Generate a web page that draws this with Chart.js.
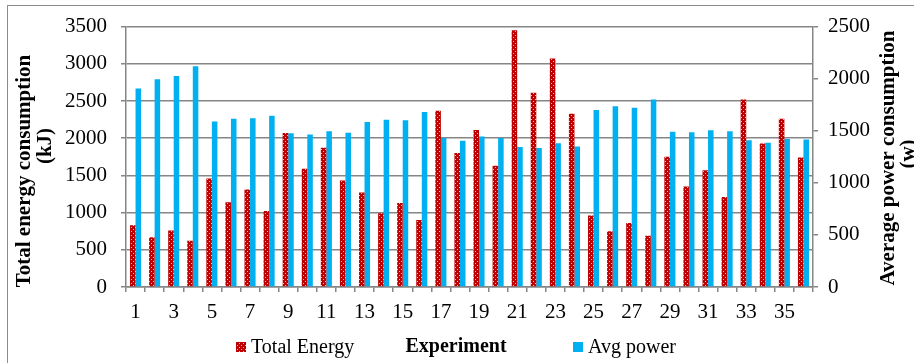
<!DOCTYPE html>
<html>
<head>
<meta charset="utf-8">
<script src="https://cdn.jsdelivr.net/npm/chart.js@4.4.0/dist/chart.umd.min.js"></script>
<style>
  html, body { margin: 0; padding: 0; background: #fff; }
  #wrap { width: 914px; height: 363px; }
</style>
</head>
<body>
<div id="wrap"><canvas id="chart" width="914" height="363"></canvas></div>
<script>
//---------------------------------------------------------------------
// DONNÉES
//---------------------------------------------------------------------
const experiments = ['1','2','3','4','5','6','7','8','9','10','11','12','13','14','15','16','17','18',
    '19','20','21','22','23','24','25','26','27','28','29','30','31','32','33','34','35','36'];
const totalEnergy = [830, 670, 760, 620, 1460, 1140, 1310, 1020, 2070, 1590, 1870, 1430,
    1270, 990, 1130, 900, 2370, 1800, 2110, 1630, 3450, 2610, 3070, 2330,
    960, 750, 860, 690, 1750, 1350, 1570, 1210, 2520, 1930, 2260, 1740];
const avgPower = [1905, 1995, 2025, 2120, 1590, 1615, 1620, 1645, 1475, 1465, 1495, 1480,
    1585, 1605, 1600, 1680, 1430, 1405, 1445, 1430, 1345, 1335, 1380, 1350,
    1700, 1735, 1720, 1800, 1490, 1485, 1505, 1495, 1410, 1385, 1420, 1415];
const energyTicks = [0, 500, 1000, 1500, 2000, 2500, 3000, 3500];
const powerTicks = [0, 500, 1000, 1500, 2000, 2500];

const serif = '"Liberation Serif", "Times New Roman", serif';
const gridColor = '#868686';

// motif rouge à pois (Total Energy)
function makeDots() {
    const c = document.createElement('canvas');
    c.width = 4; c.height = 4;
    const g = c.getContext('2d');
    g.fillStyle = '#c00000';
    g.fillRect(0, 0, 4, 4);
    g.fillStyle = '#f2c4c4';
    g.fillRect(1, 1, 1, 1);
    g.fillRect(3, 3, 1, 1);
    return g.createPattern(c, 'repeat');
}
const dots = makeDots();

//---------------------------------------------------------------------
// CADRE, TITRES D'AXES ET LÉGENDE
//---------------------------------------------------------------------
const decor = {
    id: 'decor',
    beforeDraw(chart) {
        const ctx = chart.ctx;
        ctx.save();
        ctx.fillStyle = '#fff';
        ctx.fillRect(0, 0, chart.width, chart.height);
        ctx.strokeStyle = '#8c8c8c';
        ctx.lineWidth = 1;
        ctx.strokeRect(7.5, 5.5, 1000, 1000);
        ctx.restore();
    },
    afterDraw(chart) {
        const ctx = chart.ctx;
        ctx.save();
        ctx.fillStyle = '#000';
        ctx.textAlign = 'center';
        ctx.textBaseline = 'middle';
        ctx.font = 'bold 21px ' + serif;

        const rot = (text, x, y) => {
            ctx.save();
            ctx.translate(x, y);
            ctx.rotate(-Math.PI / 2);
            ctx.fillText(text, 0, 0);
            ctx.restore();
        };
        rot('Total energy consumption', 25, 171);
        rot('(kJ)', 46, 146);
        rot('Average power consumption', 889, 158);
        rot('(w)', 909, 154);

        // légende
        const ds = chart.data.datasets;
        ctx.textBaseline = 'alphabetic';
        ctx.font = 'bold 20px ' + serif;
        ctx.fillText('Experiment', 456, 352);
        ctx.font = '20px ' + serif;
        ctx.textAlign = 'left';
        ctx.fillStyle = ds[0].backgroundColor;
        ctx.fillRect(236, 342, 10, 10);
        ctx.fillStyle = '#000';
        ctx.fillText(ds[0].label, 251, 353);
        ctx.fillStyle = ds[1].backgroundColor;
        ctx.fillRect(573, 342, 10, 10);
        ctx.fillStyle = '#000';
        ctx.fillText(ds[1].label, 588, 353);
        ctx.restore();
    }
};

//---------------------------------------------------------------------
// GRAPHIQUE
//---------------------------------------------------------------------
new Chart(document.getElementById('chart'), {
    type: 'bar',
    data: {
        labels: experiments,
        datasets: [
            {
                label: 'Total Energy',
                data: totalEnergy,
                yAxisID: 'y',
                backgroundColor: dots,
                borderWidth: 0
            },
            {
                label: 'Avg power',
                data: avgPower,
                yAxisID: 'y1',
                backgroundColor: '#00b0f0',
                borderWidth: 0
            }
        ]
    },
    options: {
        responsive: false,
        animation: false,
        layout: { padding: { top: 17, left: 0, right: 0, bottom: 0 } },
        datasets: {
            bar: { categoryPercentage: 0.58, barPercentage: 1.0 }
        },
        plugins: {
            legend: { display: false },
            tooltip: { enabled: false }
        },
        scales: {
            x: {
                offset: true,
                grid: {
                    offset: true,
                    drawOnChartArea: false,
                    drawTicks: true,
                    tickLength: 5,
                    color: gridColor,
                    lineWidth: 1.5
                },
                border: { display: true, color: gridColor, width: 1.5 },
                ticks: {
                    autoSkip: false,
                    maxRotation: 0,
                    padding: 8,
                    color: '#000',
                    font: { family: serif, size: 21 },
                    callback: (v, i) => (i % 2 === 0 ? experiments[i] : '')
                },
                afterFit: s => { s.height = 76; }
            },
            y: {
                position: 'left',
                min: 0,
                max: 3500,
                afterBuildTicks: s => { s.ticks = energyTicks.map(v => ({ value: v })); },
                grid: {
                    color: gridColor,
                    lineWidth: 1.5,
                    tickLength: 5
                },
                border: { display: true, color: gridColor, width: 1.5 },
                ticks: {
                    padding: 14,
                    color: '#000',
                    font: { family: serif, size: 21 },
                    callback: v => String(v)
                },
                afterFit: s => { s.width = 126; }
            },
            y1: {
                position: 'right',
                min: 0,
                max: 2500,
                afterBuildTicks: s => { s.ticks = powerTicks.map(v => ({ value: v })); },
                grid: {
                    drawOnChartArea: false,
                    color: gridColor,
                    lineWidth: 1.5,
                    tickLength: 5
                },
                border: { display: true, color: gridColor, width: 1.5 },
                ticks: {
                    padding: 10,
                    color: '#000',
                    font: { family: serif, size: 21 },
                    callback: v => String(v)
                },
                afterFit: s => { s.width = 101; }
            }
        }
    },
    plugins: [decor]
});
</script>
</body>
</html>
